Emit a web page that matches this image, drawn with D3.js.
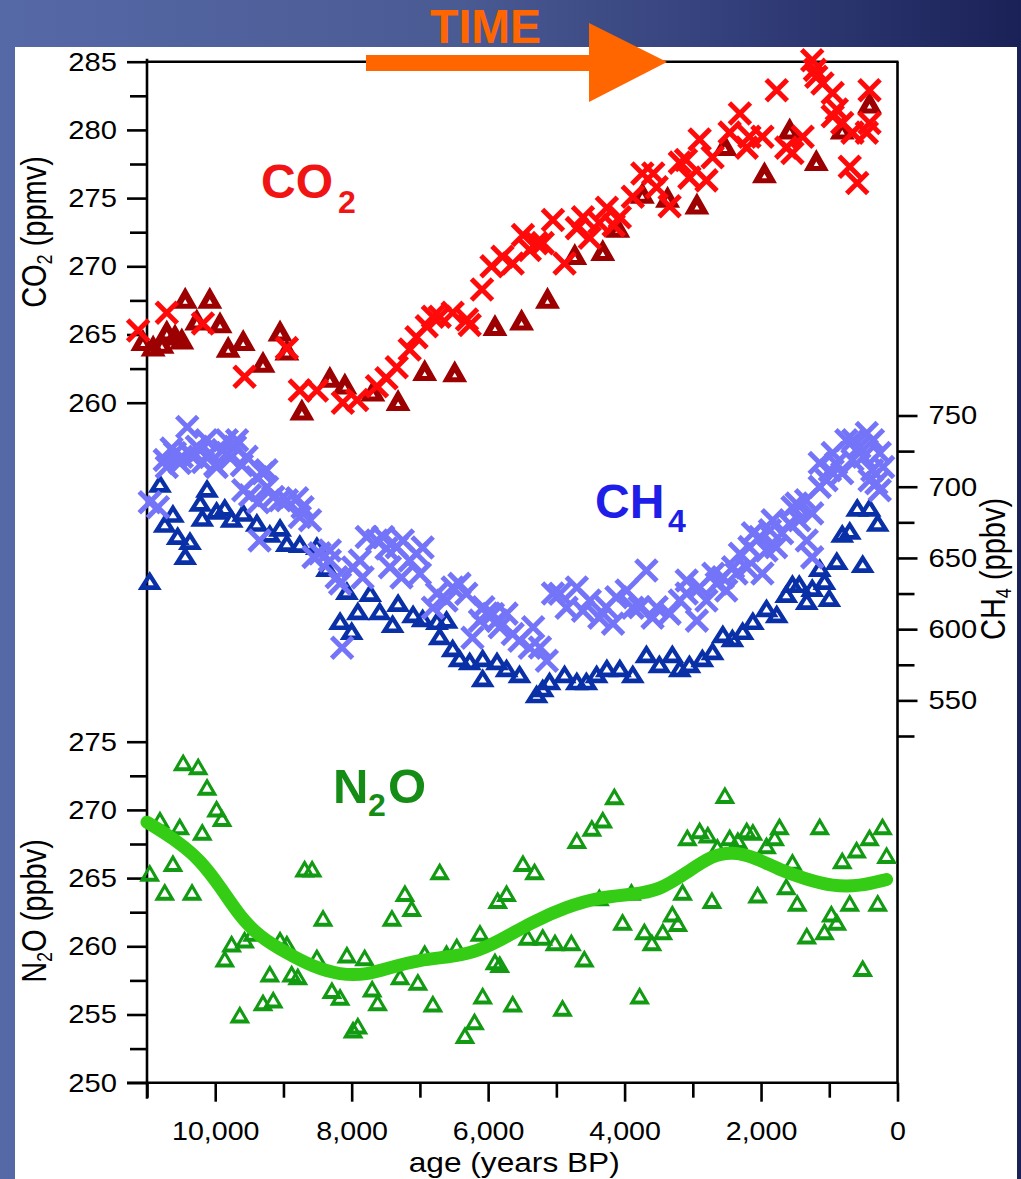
<!DOCTYPE html>
<html>
<head>
<meta charset="utf-8">
<script src="https://cdn.jsdelivr.net/npm/d3@7"></script>
<style>
  body { margin: 0; background: #1b2156; }
  svg { display: block; }
  text { font-family: "Liberation Sans", Arial, sans-serif; }
</style>
</head>
<body>
<svg id="chart" width="1021" height="1179"></svg>
<script>
// ------------------- data (age in years BP, concentration) -------------------
var co2Cross = [
  [11130,265.3],[10710,266.6],[10180,265.8],[9570,261.9],[8950,264.0],[8760,260.9],[8510,260.9],
  [8130,260.0],[7920,260.2],[7630,261.2],[7490,261.8],[7340,262.6],[7150,263.9],[7050,264.8],
  [6900,265.6],[6810,266.3],[6710,266.3],[6520,266.6],[6310,266.1],[6270,265.7],[6090,268.3],
  [5950,270.0],[5790,270.7],[5640,270.2],[5490,272.3],[5390,271.2],[5290,271.7],[5200,271.7],
  [5050,273.4],[4880,270.2],[4700,272.8],[4610,273.6],[4510,272.1],[4370,273.2],[4260,274.3],
  [4160,273.0],[4070,273.6],[3880,275.1],[3740,276.8],[3580,276.8],[3530,275.8],[3340,274.4],
  [3190,277.6],[3100,277.8],[3050,276.5],[2900,279.3],[2800,276.3],[2710,278.0],[2460,279.8],
  [2310,281.2],[2210,278.7],[2170,279.5],[1980,279.5],[1770,282.9],[1630,278.7],[1540,278.3],
  [1390,279.5],[1250,285.1],[1210,284.4],[1190,283.9],[1100,283.4],[950,282.7],[950,281.0],
  [890,281.5],[810,280.5],[700,277.3],[660,279.8],[590,276.1],[450,279.8],[410,282.9],[410,280.5]
];
var co2Tri = [
  [11060,264.6],[10910,264.2],[10780,264.4],[10710,265.3],[10590,265.0],[10490,264.7],[10440,267.7],
  [10270,266.1],[10080,267.7],[9930,265.9],[9810,264.1],[9590,264.6],[9300,263.0],[9050,265.3],
  [8950,263.9],[8730,259.5],[8320,261.9],[8100,261.4],[7690,260.9],[7320,260.2],[6930,262.4],
  [6490,262.3],[5900,265.7],[5510,266.1],[5130,267.7],[4730,270.9],[4320,271.2],[4100,272.9],
  [3740,275.4],[3370,275.1],[2940,274.6],[2530,278.9],[1950,276.9],[1580,280.1],[1190,277.8],
  [810,280.1],[410,282.0]
];
var ch4Cross = [
  [10960,689.1],[10840,685.6],[10740,718.7],[10710,713.9],[10640,726.9],[10590,723.6],[10520,716.6],
  [10490,721.0],[10410,741.9],[10370,723.4],[10330,720.8],[10270,728.0],[10220,725.7],[10180,717.3],
  [10130,732.7],[10080,723.6],[10000,715.1],[9980,713.9],[9890,725.7],[9830,732.7],[9780,720.1],
  [9710,728.0],[9680,732.7],[9610,715.1],[9590,697.5],[9540,721.0],[9490,694.0],[9390,706.7],
  [9370,689.1],[9300,709.5],[9250,711.6],[9240,699.7],[9150,692.8],[9050,690.5],[9350,662.3],
  [8950,690.5],[8800,691.9],[8760,678.7],[8720,685.6],[8610,676.4],[8560,650.6],[8470,653.2],
  [8320,648.2],[8320,655.3],[8220,636.5],[8170,632.0],[8140,587.0],[7980,643.3],[7880,648.2],
  [7840,636.3],[7780,664.7],[7630,662.3],[7540,664.7],[7490,656.7],[7440,643.5],[7340,657.6],
  [7270,636.3],[7250,662.3],[7150,648.2],[7050,653.0],[7000,638.9],[6960,657.4],[6810,615.1],
  [6750,625.0],[6610,620.1],[6520,629.2],[6420,631.8],[6320,624.8],[6230,594.0],[6120,606.0],
  [6070,615.4],[6020,610.9],[5930,610.7],[5870,606.0],[5830,601.3],[5730,610.9],[5640,596.6],
  [5540,591.9],[5390,587.0],[5340,601.3],[5240,587.2],[5140,577.8],[5050,625.0],[4950,624.8],
  [4850,615.1],[4700,629.2],[4610,613.0],[4510,620.1],[4370,608.1],[4270,615.4],[4170,603.9],
  [4120,622.4],[3970,627.1],[3880,615.1],[3780,615.4],[3680,641.2],[3590,608.1],[3530,615.4],
  [3340,610.9],[3190,620.1],[3090,625.0],[3090,634.2],[2940,606.0],[2900,629.5],[2800,620.1],
  [2700,638.9],[2650,632.0],[2560,636.5],[2510,627.1],[2410,643.5],[2360,639.1],[2310,653.0],
  [2210,643.3],[2170,657.6],[2120,667.3],[2020,664.7],[1980,639.1],[1920,655.3],[1870,669.4],
  [1830,676.4],[1780,657.6],[1690,667.3],[1580,674.1],[1540,685.6],[1480,688.2],[1440,676.4],
  [1340,690.5],[1330,662.3],[1250,681.3],[1250,650.4],[1140,716.6],[1140,699.9],[1040,704.6],
  [990,711.6],[950,723.6],[900,716.3],[810,709.5],[750,732.7],[660,718.7],[650,732.7],
  [560,727.8],[500,721.0],[450,737.7],[410,704.6],[370,711.6],[360,732.7],[310,702.5],
  [260,723.6],[260,697.5],[210,713.9]
];
var ch4Tri = [
  [10960,634.2],[10810,702.5],[10740,674.3],[10620,681.3],[10550,665.8],[10440,651.8],[10370,662.3],
  [10220,689.1],[10190,678.5],[10120,698.9],[9980,683.5],[9860,685.6],[9760,677.8],[9590,682.0],
  [9390,675.0],[9200,667.3],[9050,671.5],[8950,660.9],[8760,660.2],[8510,658.8],[8360,643.3],
  [8170,606.0],[8070,627.1],[8000,599.0],[7910,613.0],[7730,625.7],[7590,613.0],[7400,603.9],
  [7320,618.7],[7100,610.9],[6960,608.1],[6750,606.0],[6610,607.0],[6710,595.4],[6520,587.0],
  [6420,579.9],[6270,577.8],[6080,579.9],[6080,565.9],[5870,577.8],[5730,572.9],[5540,568.7],
  [5290,554.6],[5200,558.8],[5100,563.7],[4880,568.7],[4700,563.7],[4560,563.7],[4410,568.7],
  [4260,572.9],[4070,572.9],[3880,568.7],[3680,582.8],[3490,575.7],[3300,582.8],[3190,572.9],
  [3050,575.7],[2860,579.9],[2710,584.9],[2560,596.8],[2420,594.0],[2270,599.0],[2120,606.0],
  [1920,615.1],[1770,610.9],[1630,625.0],[1540,632.0],[1440,632.0],[1330,620.1],[1250,629.2],
  [1140,643.3],[1070,634.2],[1000,622.2],[890,648.2],[810,667.3],[700,669.4],[590,685.6],
  [510,646.1],[410,685.6],[290,675.0]
];
var n2oTri = [
  [10960,265.4],[10810,269.3],[10740,264.0],[10620,266.1],[10520,268.8],[10470,273.5],[10340,264.0],
  [10250,273.2],[10190,268.4],[10120,271.7],[9980,270.1],[9900,269.4],[9860,259.1],[9760,260.2],
  [9640,255.0],[9570,260.5],[9450,261.0],[9300,255.9],[9200,258.0],[9150,256.1],[9050,260.5],
  [8950,260.2],[8880,258.0],[8790,257.8],[8690,265.7],[8580,265.7],[8510,259.2],[8420,262.1],
  [8290,256.8],[8170,256.3],[8070,259.4],[7980,253.9],[7910,254.2],[7810,259.2],[7700,256.9],
  [7620,255.9],[7410,262.1],[7290,257.8],[7220,263.9],[7120,262.8],[7030,257.4],[6930,259.5],
  [6810,255.8],[6710,265.5],[6610,259.5],[6460,260.0],[6340,253.5],[6200,254.5],[6120,261.0],
  [6080,256.4],[5900,258.9],[5860,263.4],[5830,258.7],[5730,263.9],[5640,255.8],[5490,266.1],
  [5420,260.7],[5320,265.5],[5200,260.7],[5020,260.3],[4910,255.5],[4780,260.3],[4590,259.1],
  [4700,267.8],[4480,268.7],[4320,269.3],[4370,263.6],[4150,271.0],[4030,261.8],[3900,264.0],
  [3780,256.4],[3710,261.1],[3600,260.3],[3440,261.1],[3300,262.4],[3220,261.7],[3150,264.0],
  [3080,268.0],[2900,268.5],[2780,268.2],[2720,263.4],[2640,267.3],[2530,271.1],[2460,268.0],
  [2340,267.8],[2210,268.5],[2120,268.4],[2050,263.8],[1920,267.4],[1800,268.0],[1730,268.8],
  [1630,264.4],[1540,266.2],[1470,263.2],[1330,260.8],[1140,268.8],[1070,261.1],[970,262.4],
  [890,261.8],[810,266.3],[700,263.2],[600,267.1],[510,258.4],[410,268.0],[290,263.2],
  [220,268.8],[160,266.7]
];
var n2oSmooth = [
  [11000,269.1],[10520,267.6],[10220,266.3],[9930,264.4],[9640,262.2],[9350,260.7],[8950,259.5],
  [8570,258.5],[8170,257.9],[7780,257.9],[7400,258.5],[7000,259.0],[6610,259.2],[6230,259.5],
  [5830,260.4],[5350,261.8],[4850,262.9],[4370,263.6],[3880,263.8],[3490,264.1],[3090,265.4],
  [2710,266.7],[2420,266.9],[2120,266.6],[1730,265.6],[1330,264.9],[950,264.4],[560,264.4],
  [160,264.9]
];

var xMajorTicks = [10000, 8000, 6000, 4000, 2000, 0];
var xMinorTicks = [11000, 9000, 7000, 5000, 3000, 1000];
var co2Ticks = [260, 265, 270, 275, 280, 285];
var co2MinorTicks = [262.5, 267.5, 272.5, 277.5, 282.5];
var n2oTicks = [250, 255, 260, 265, 270, 275];
var n2oMinorTicks = [252.5, 257.5, 262.5, 267.5, 272.5];
var ch4Ticks = [550, 600, 650, 700, 750];
var ch4MinorTicks = [525, 575, 625, 675, 725];

// ------------------- layout -------------------
var width = 1021, height = 1179;
var plotLeft = 147, plotRight = 897.5, plotTop = 61.7, plotBottom = 1082.7;
var font = "'Liberation Sans', Arial, sans-serif";

var svg = d3.select("#chart");
var defs = svg.append("defs");

var bg = defs.append("linearGradient").attr("id", "bg")
    .attr("x1", 0).attr("x2", 1).attr("y1", 0).attr("y2", 0);
bg.append("stop").attr("offset", "0").attr("stop-color", "#5669a7");
bg.append("stop").attr("offset", "0.45").attr("stop-color", "#4a5a93");
bg.append("stop").attr("offset", "0.72").attr("stop-color", "#333f7a");
bg.append("stop").attr("offset", "1").attr("stop-color", "#1a2157");

svg.append("rect").attr("width", width).attr("height", height).attr("fill", "url(#bg)");
svg.append("rect").attr("x", 15).attr("y", 47).attr("width", 1002).attr("height", 1132).attr("fill", "#fff");

// ------------------- scales -------------------
var x = d3.scaleLinear().domain([11000, 0]).range([plotLeft, plotRight]);
var yCO2 = d3.scaleLinear().domain([260, 285]).range([402.7, plotTop]);
var yN2O = d3.scaleLinear().domain([250, 275]).range([plotBottom, 741.7]);
var yCH4 = d3.scaleLinear().domain([525, 750]).range([736, 415.5]);

// ------------------- axes -------------------
function drawAxis(axis, tx, ty, stretch) {
  var g = svg.append("g")
      .attr("transform", "translate(" + tx + "," + ty + ")")
      .call(axis);
  g.select(".domain").remove();
  g.selectAll("line").attr("stroke", "#000").attr("stroke-width", 2.6);
  g.selectAll("text")
      .attr("font-family", font).attr("font-size", 26.5).attr("fill", "#000")
      .each(function() {
        var w = this.getComputedTextLength();
        if (w > 0) d3.select(this).attr("textLength", w * stretch).attr("lengthAdjust", "spacingAndGlyphs");
      });
  return g;
}

drawAxis(d3.axisLeft(yCO2).tickValues(co2Ticks).tickSize(20).tickPadding(10).tickFormat(d3.format("d")), plotLeft, 0, 1.1);
drawAxis(d3.axisLeft(yCO2).tickValues(co2MinorTicks).tickSize(17).tickFormat(""), plotLeft, 0, 1);
drawAxis(d3.axisLeft(yN2O).tickValues(n2oTicks).tickSize(20).tickPadding(10).tickFormat(d3.format("d")), plotLeft, 0, 1.1);
drawAxis(d3.axisLeft(yN2O).tickValues(n2oMinorTicks).tickSize(17).tickFormat(""), plotLeft, 0, 1);
drawAxis(d3.axisRight(yCH4).tickValues(ch4Ticks).tickSize(20).tickPadding(11).tickFormat(d3.format("d")), plotRight, 0, 1.1);
drawAxis(d3.axisRight(yCH4).tickValues(ch4MinorTicks).tickSize(17).tickFormat(""), plotRight, 0, 1);
drawAxis(d3.axisBottom(x).tickValues(xMajorTicks).tickSize(19).tickPadding(19).tickFormat(d3.format(",")), 0, plotBottom, 1.08);
drawAxis(d3.axisBottom(x).tickValues(xMinorTicks).tickSize(15).tickFormat(""), 0, plotBottom, 1);

// frame
var frame = svg.append("g").attr("stroke", "#000").attr("stroke-width", 2.6).attr("fill", "none");
frame.append("line").attr("x1", plotLeft).attr("x2", plotLeft).attr("y1", plotTop - 3).attr("y2", plotBottom + 16);
frame.append("line").attr("x1", plotLeft).attr("x2", plotRight + 1).attr("y1", plotTop).attr("y2", plotTop);
frame.append("line").attr("x1", plotRight).attr("x2", plotRight).attr("y1", plotTop).attr("y2", plotBottom);
frame.append("line").attr("x1", plotLeft - 20).attr("x2", plotRight + 1).attr("y1", plotBottom).attr("y2", plotBottom);

// ------------------- markers -------------------
var crossPath = "M-10.5,-10.5L10.5,10.5M-10.5,10.5L10.5,-10.5";
function triPath(hw, h, holeTop, holeBot) {
  var t = -h / 2, b = h / 2, ihw = (holeBot - holeTop) * hw / h;
  return "M0," + t + "L" + hw + "," + b + "L" + (-hw) + "," + b + "Z" +
         "M0," + holeTop + "L" + (-ihw) + "," + holeBot + "L" + ihw + "," + holeBot + "Z";
}

function drawTri(data, yScale, color, path) {
  svg.append("g").selectAll("path")
    .data(data)
    .enter().append("path")
      .attr("d", path)
      .attr("fill", color)
      .attr("fill-rule", "evenodd")
      .attr("transform", function(d) { return "translate(" + x(d[0]) + "," + yScale(d[1]) + ")"; });
}
function drawCross(data, yScale, color) {
  svg.append("g").selectAll("path")
    .data(data)
    .enter().append("path")
      .attr("d", crossPath)
      .attr("fill", "none")
      .attr("stroke", color)
      .attr("stroke-width", 5)
      .attr("transform", function(d) { return "translate(" + x(d[0]) + "," + yScale(d[1]) + ")"; });
}

drawTri(co2Tri, yCO2, "#9c0000", triPath(12.5, 22, 1.5, 6));
drawCross(co2Cross, yCO2, "#ff0a0a");
drawTri(ch4Tri, yCH4, "#0a30a8", triPath(12, 19, -1.5, 4.8));
drawCross(ch4Cross, yCH4, "#7474f8");
drawTri(n2oTri, yN2O, "#129a12", triPath(10.5, 18, -2.8, 5));

var line = d3.line()
    .x(function(d) { return x(d[0]); })
    .y(function(d) { return yN2O(d[1]); })
    .curve(d3.curveBasis);
svg.append("path")
    .datum(n2oSmooth)
    .attr("d", line)
    .attr("fill", "none")
    .attr("stroke", "#34cc14")
    .attr("stroke-width", 13)
    .attr("stroke-linecap", "round");

// ------------------- series labels -------------------
function gasLabel(parts, color) {
  var t = svg.append("text").attr("fill", color).attr("font-weight", "bold").attr("font-family", font);
  parts.forEach(function(p) {
    t.append("tspan").attr("x", p[0]).attr("y", p[1]).attr("font-size", p[2]).text(p[3]);
  });
}
gasLabel([[261, 198, 48, "CO"], [338, 213, 32, "2"]], "#f01414");
gasLabel([[595, 518, 48, "CH"], [668, 532, 32, "4"]], "#1e1ee8");
gasLabel([[333, 803, 49, "N"], [368, 816, 32, "2"], [388, 803, 49, "O"]], "#158c15");

// ------------------- axis titles -------------------
function rotLabel(cx, cy, main, sub, rest) {
  var t = svg.append("text")
      .attr("transform", "translate(" + cx + "," + cy + ") rotate(-90) scale(1,1.22)")
      .attr("text-anchor", "middle")
      .attr("font-family", font).attr("font-size", 29).attr("fill", "#000");
  t.append("tspan").text(main);
  t.append("tspan").attr("font-size", 18).attr("dy", 5).text(sub);
  t.append("tspan").attr("dy", -5).text(rest);
}
rotLabel(46, 232, "CO", "2", " (ppmv)");
rotLabel(46, 911, "N", "2", "O (ppbv)");
rotLabel(1005, 569, "CH", "4", " (ppbv)");

svg.append("text")
    .attr("x", (plotLeft + plotRight) / 2 - 8).attr("y", 1172)
    .attr("text-anchor", "middle")
    .attr("font-family", font).attr("font-size", 28).attr("fill", "#000")
    .attr("textLength", 211).attr("lengthAdjust", "spacingAndGlyphs")
    .text("age (years BP)");

// ------------------- TIME arrow -------------------
svg.append("text")
    .attr("x", 430).attr("y", 43)
    .attr("font-family", font).attr("font-weight", "bold").attr("font-size", 49)
    .attr("fill", "#ff6600")
    .attr("textLength", 111).attr("lengthAdjust", "spacingAndGlyphs")
    .text("TIME");
svg.append("rect").attr("x", 366).attr("y", 55).attr("width", 226).attr("height", 16).attr("fill", "#ff6600");
svg.append("path").attr("d", "M589,23L667,62L589,102Z").attr("fill", "#ff6600");
</script>
</body>
</html>
